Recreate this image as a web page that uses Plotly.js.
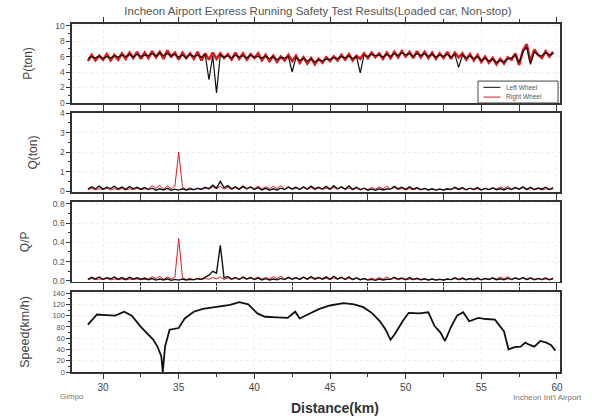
<!DOCTYPE html>
<html><head><meta charset="utf-8">
<script src="https://cdn.plot.ly/plotly-3.0.1.min.js"></script>
<style>html,body{margin:0;padding:0;background:#fff}#c{width:592px;height:419px}</style>
</head><body><div id="c"></div>
<script>
const dist = [29,29.25,29.5,29.75,30,30.25,30.5,30.75,31,31.25,31.5,31.75,32,32.25,32.5,32.75,33,33.25,33.5,33.75,34,34.25,34.5,34.75,35,35.25,35.5,35.75,36,36.25,36.5,36.75,37,37.25,37.5,37.75,38,38.25,38.5,38.75,39,39.25,39.5,39.75,40,40.25,40.5,40.75,41,41.25,41.5,41.75,42,42.25,42.5,42.75,43,43.25,43.5,43.75,44,44.25,44.5,44.75,45,45.25,45.5,45.75,46,46.25,46.5,46.75,47,47.25,47.5,47.75,48,48.25,48.5,48.75,49,49.25,49.5,49.75,50,50.25,50.5,50.75,51,51.25,51.5,51.75,52,52.25,52.5,52.75,53,53.25,53.5,53.75,54,54.25,54.5,54.75,55,55.25,55.5,55.75,56,56.25,56.5,56.75,57,57.25,57.5,57.75,58,58.25,58.5,58.75,59,59.25,59.5,59.75];

const P_right = [5.4,6.2,5.5,6.1,5.6,6.3,5.5,6.2, 5.6,6.4,5.7,6.5,5.8,6.6,5.7,6.5, 5.8,6.7,5.9,6.6,5.7,6.8,6.0,6.5, 5.6,6.5,5.8,6.4,5.7,6.6,5.5,6.4, 5.6,6.5,5.7,6.4,5.8,6.3,5.6,6.5, 5.7,6.4,5.6,6.3,5.8,6.4,5.5,6.2, 5.4,6.1,5.3,6.0,5.5,6.2,5.4,6.1, 5.2,5.9,5.1,5.8,5.0,5.7,5.2,5.9, 5.4,6.0,5.5,6.2,5.6,6.3,5.5,6.1, 5.7,6.4,5.8,6.5,5.9,6.4,5.7,6.5, 5.8,6.6,5.9,6.7,6.0,6.6,5.8,6.7, 5.9,6.6,5.8,6.5,5.7,6.4,5.8,6.6, 5.7,6.5,5.9,6.4,5.6,6.3,5.5,6.2, 5.3,6.0,5.2,5.8,5.0,5.7,5.1,5.9, 5.6,6.4,4.9,6.8,7.6,5.3,6.9,6.2, 5.8,6.7,6.0,6.6];
const P_left = [5.7,6.0,5.8,6.1,5.7,6.0,5.8,6.1, 5.9,6.2,6.0,6.3,5.9,6.3,6.0,6.2, 6.1,6.4,6.0,6.5,6.1,6.4,6.0,6.3, 5.9,6.2,5.8,6.3,6.0,6.2,5.9,6.3, 3.0,6.1,1.3,6.2,5.9,6.1,5.8,6.2, 5.9,6.1,5.8,6.2,5.9,6.0,5.8,6.1, 5.7,6.0,5.6,5.9,5.8,6.0,4.0,5.9, 5.5,5.8,5.4,5.7,5.3,5.6,5.4,5.7, 5.6,5.9,5.7,6.0,5.8,6.1,5.7,6.0, 3.9,6.2,6.0,6.3,6.1,6.2,5.9,6.3, 6.0,6.4,6.1,6.5,6.2,6.4,6.0,6.4, 6.1,6.4,6.0,6.3,5.9,6.2,6.0,6.3, 5.9,6.3,4.6,6.2,5.8,6.1,5.7,6.0, 5.5,5.8,5.4,5.7,5.2,5.5,5.3,5.7, 5.8,6.2,5.2,6.6,7.2,5.0,6.6,6.2, 6.1,6.5,6.2,6.4];

const Q_left = [0.10,0.22,0.12,0.25,0.10,0.20,0.13,0.24, 0.11,0.21,0.09,0.23,0.12,0.20,0.10,0.18, 0.08,0.15,0.05,0.12,0.06,0.14,0.04,0.10, 0.05,0.12,0.06,0.10,0.08,0.14,0.10,0.20, 0.12,0.30,0.15,0.50,0.18,0.28,0.12,0.22, 0.10,0.25,0.12,0.20,0.08,0.18,0.06,0.14, 0.05,0.12,0.06,0.15,0.08,0.20,0.10,0.18, 0.08,0.22,0.10,0.25,0.12,0.20,0.11,0.24, 0.10,0.28,0.12,0.22,0.10,0.26,0.09,0.20, 0.08,0.15,0.05,0.10,0.04,0.12,0.06,0.11, 0.10,0.24,0.12,0.20,0.09,0.22,0.10,0.18, 0.08,0.14,0.06,0.12,0.05,0.10,0.06,0.12, 0.08,0.20,0.10,0.18,0.07,0.15,0.09,0.18, 0.06,0.14,0.08,0.16,0.07,0.12,0.06,0.15, 0.08,0.18,0.10,0.22,0.09,0.20,0.08,0.16, 0.10,0.20,0.08,0.18];
const Q_right = [0.08,0.14,0.07,0.12,0.08,0.15,0.06,0.12, 0.07,0.13,0.06,0.12,0.08,0.14,0.07,0.12, 0.12,0.28,0.14,0.30,0.10,0.26,0.12,0.25, 2.00,0.22,0.08,0.18,0.06,0.15,0.07,0.16, 0.10,0.22,0.12,0.25,0.10,0.20,0.08,0.18, 0.08,0.20,0.10,0.24,0.12,0.26,0.10,0.22, 0.12,0.25,0.14,0.28,0.10,0.24,0.12,0.22, 0.10,0.20,0.08,0.18,0.07,0.16,0.08,0.15, 0.08,0.18,0.10,0.20,0.08,0.16,0.07,0.15, 0.06,0.14,0.08,0.18,0.10,0.22,0.12,0.25, 0.10,0.18,0.07,0.14,0.06,0.12,0.07,0.13, 0.06,0.12,0.05,0.11,0.06,0.12,0.05,0.10, 0.08,0.15,0.06,0.13,0.07,0.14,0.06,0.12, 0.07,0.14,0.08,0.18,0.10,0.22,0.12,0.24, 0.10,0.20,0.08,0.18,0.06,0.14,0.07,0.13, 0.06,0.12,0.07,0.11];

const QP_left = [0.017,0.037,0.020,0.041,0.017,0.033,0.022,0.039, 0.018,0.034,0.015,0.037,0.020,0.032,0.017,0.029, 0.013,0.024,0.008,0.019,0.010,0.022,0.006,0.016, 0.008,0.019,0.010,0.016,0.013,0.023,0.017,0.040, 0.060,0.100,0.080,0.370,0.030,0.046,0.020,0.036, 0.017,0.041,0.020,0.033,0.014,0.030,0.010,0.023, 0.009,0.020,0.011,0.026,0.014,0.034,0.017,0.031, 0.015,0.039,0.018,0.044,0.022,0.036,0.020,0.042, 0.018,0.048,0.021,0.037,0.017,0.043,0.015,0.033, 0.013,0.024,0.008,0.016,0.006,0.019,0.010,0.017, 0.016,0.038,0.019,0.031,0.014,0.035,0.016,0.028, 0.013,0.022,0.010,0.019,0.008,0.016,0.010,0.019, 0.013,0.032,0.016,0.029,0.012,0.025,0.015,0.030, 0.011,0.025,0.015,0.029,0.013,0.022,0.011,0.027, 0.014,0.029,0.017,0.036,0.015,0.033,0.013,0.026, 0.016,0.031,0.013,0.028];
const QP_right = [0.014,0.024,0.013,0.020,0.014,0.025,0.011,0.019, 0.012,0.020,0.010,0.019,0.013,0.021,0.012,0.018, 0.019,0.045,0.023,0.048,0.016,0.041,0.019,0.039, 0.440,0.036,0.013,0.029,0.010,0.024,0.012,0.026, 0.017,0.035,0.020,0.040,0.016,0.032,0.013,0.029, 0.013,0.032,0.017,0.039,0.020,0.042,0.017,0.036, 0.021,0.043,0.025,0.049,0.018,0.041,0.021,0.038, 0.018,0.036,0.015,0.033,0.013,0.029,0.015,0.027, 0.014,0.031,0.017,0.034,0.014,0.027,0.012,0.025, 0.010,0.023,0.013,0.029,0.016,0.035,0.019,0.040, 0.016,0.028,0.011,0.022,0.010,0.019,0.011,0.021, 0.010,0.019,0.008,0.018,0.010,0.019,0.008,0.016, 0.013,0.024,0.010,0.021,0.011,0.023,0.010,0.020, 0.013,0.026,0.015,0.033,0.019,0.040,0.022,0.044, 0.017,0.033,0.014,0.030,0.011,0.024,0.012,0.022, 0.010,0.020,0.012,0.018];

const speedDist = [29.0,29.6,30.2,30.8,31.4,31.9,32.5,33.0,33.3,33.6,33.85,33.95,34.1,34.4,35.0,35.4,36.0,36.6,37.4,38.4,39.0,39.6,40.2,40.7,41.5,42.2,42.7,43.0,43.6,44.3,45.0,45.9,46.6,47.2,47.8,48.3,48.7,49.0,49.3,49.8,50.2,50.9,51.5,51.9,52.3,52.6,53.0,53.4,53.8,54.2,54.8,55.3,55.9,56.2,56.5,56.8,57.2,57.6,57.9,58.2,58.5,58.9,59.3,59.6,59.9];
const speed = [84,102,101,100,107,100,80,66,58,45,28,0,45,75,78,95,107,112,115,119,124,120,104,98,97,96,107,95,103,112,118,122,120,115,104,90,74,57,68,90,105,104,106,82,70,55,80,100,106,90,96,94,93,83,72,40,44,45,52,48,45,55,52,48,38];

const xTicks = [30,35,40,45,50,55,60];
const legendNames = ['Left Wheel','Right Wheel'];
const titleText = "Incheon Airport Express Running Safety Test Results(Loaded car, Non-stop)";

const F = "Liberation Sans, Arial, sans-serif";
const RED = "#dc1c1c", BLK = "#111111";

const traces = [
  {x: dist, y: P_right, xaxis:'x', yaxis:'y', mode:'lines', line:{color:RED,width:2.6}, name:legendNames[1]},
  {x: dist, y: P_left, xaxis:'x', yaxis:'y', mode:'lines', line:{color:BLK,width:1.2}, name:legendNames[0]},
  {x: dist, y: Q_right, xaxis:'x2', yaxis:'y2', mode:'lines', line:{color:RED,width:1}},
  {x: dist, y: Q_left, xaxis:'x2', yaxis:'y2', mode:'lines', line:{color:BLK,width:1.4}},
  {x: dist, y: QP_right, xaxis:'x3', yaxis:'y3', mode:'lines', line:{color:RED,width:1}},
  {x: dist, y: QP_left, xaxis:'x3', yaxis:'y3', mode:'lines', line:{color:BLK,width:1.4}},
  {x: speedDist, y: speed, xaxis:'x4', yaxis:'y4', mode:'lines', line:{color:BLK,width:1.8}}
];

function xa(anchor, labels){
  return {anchor:anchor, range:[27.95,60.2], tickvals:xTicks, ticktext:xTicks.map(String),
    showticklabels:labels, ticks:'outside', ticklen:5, tickcolor:'#333', mirror:'ticks',
    minor:{dtick:2.5, tick0:27.5, ticks:'outside', ticklen:3, tickcolor:'#333', showgrid:false},
    showline:true, linecolor:'#333', linewidth:1.6, showgrid:true, gridcolor:'#eeeeee', griddash:'dot',
    zeroline:false, tickfont:{size:10, color:'#444', family:F}, matches: anchor==='y4'?undefined:'x4'};
}
function ya(dom, range, dtick, minor, title, fmt, fsize, tsize){
  return {domain:dom, range:range, dtick:dtick, tick0:0, ticks:'outside', ticklen:4, tickcolor:'#333',
    minor:{dtick:minor, ticks:'outside', ticklen:2, tickcolor:'#333', showgrid:false},
    showline:true, linecolor:'#333', linewidth:1.6, mirror:true, showgrid:true, gridcolor:'#eeeeee', griddash:'dot',
    zeroline:false, tickformat:fmt, tickfont:{size:fsize, color:'#555', family:F},
    title:{text:title, font:{size:tsize, color:'#444', family:F}, standoff:20}};
}

// legend drawn as a small boxed key (paper coordinates)
const LX0 = 0.832, LX1 = 0.996, LY0 = 0.773, LY1 = 0.836;
const legendRows = [0.818, 0.790];
const shapes = [
  {type:'rect', xref:'paper', yref:'paper', x0:LX0, x1:LX1, y0:LY0, y1:LY1, line:{color:'#444', width:1}, fillcolor:'#fff', layer:'above'},
  {type:'line', xref:'paper', yref:'paper', x0:0.843, x1:0.878, y0:legendRows[0], y1:legendRows[0], line:{color:BLK, width:1}, layer:'above'},
  {type:'line', xref:'paper', yref:'paper', x0:0.843, x1:0.878, y0:legendRows[1], y1:legendRows[1], line:{color:RED, width:1}, layer:'above'}
];

const layout = {
  width:592, height:419, paper_bgcolor:'#fff', plot_bgcolor:'#fff',
  margin:{l:72, r:32, t:24, b:47},
  font:{family:F},
  showlegend:false,
  title:{text:titleText, font:{size:11.5, color:'#555', family:F}, xref:'container', x:0.537, xanchor:'center', yref:'container', y:0.974, yanchor:'middle'},
  xaxis: xa('y', false), xaxis2: xa('y2', false), xaxis3: xa('y3', false), xaxis4: xa('y4', true),
  yaxis: ya([0.773,1], [0,10.2], 2, 1, 'P(ton)', 'd', 8.5, 12),
  yaxis2: ya([0.517,0.744], [-0.05,4.0], 1, 0.5, 'Q(ton)', 'd', 8.5, 12),
  yaxis3: ya([0.259,0.489], [-0.01,0.82], 0.2, 0.1, 'Q/P', '.1f', 8.5, 12),
  yaxis4: ya([0,0.23], [0,142], 20, 10, 'Speed(km/h)', 'd', 7.5, 12.5),
  shapes: shapes,
  annotations:[
    {text:legendNames[0], xref:'paper', yref:'paper', x:0.885, y:legendRows[0], showarrow:false, font:{size:6.5, color:'#555', family:F}, xanchor:'left', yanchor:'middle'},
    {text:legendNames[1], xref:'paper', yref:'paper', x:0.885, y:legendRows[1], showarrow:false, font:{size:6.5, color:'#555', family:F}, xanchor:'left', yanchor:'middle'},
    {text:'Distance(km)', xref:'paper', yref:'paper', x:0.539, y:-0.103, showarrow:false, font:{size:14, color:'#333', family:F, weight:'bold'}, xanchor:'center', yanchor:'middle'},
    {text:'Gimpo', xref:'paper', yref:'paper', x:0.0, y:-0.069, showarrow:false, font:{size:8, color:'#777', family:F}, xanchor:'center', yanchor:'middle'},
    {text:"Incheon Int'l Airport", xref:'paper', yref:'paper', x:0.975, y:-0.072, showarrow:false, font:{size:8, color:'#777', family:F}, xanchor:'center', yanchor:'middle'}
  ]
};

Plotly.newPlot('c', traces, layout, {displayModeBar:false, staticPlot:true});
</script>
</body></html>
